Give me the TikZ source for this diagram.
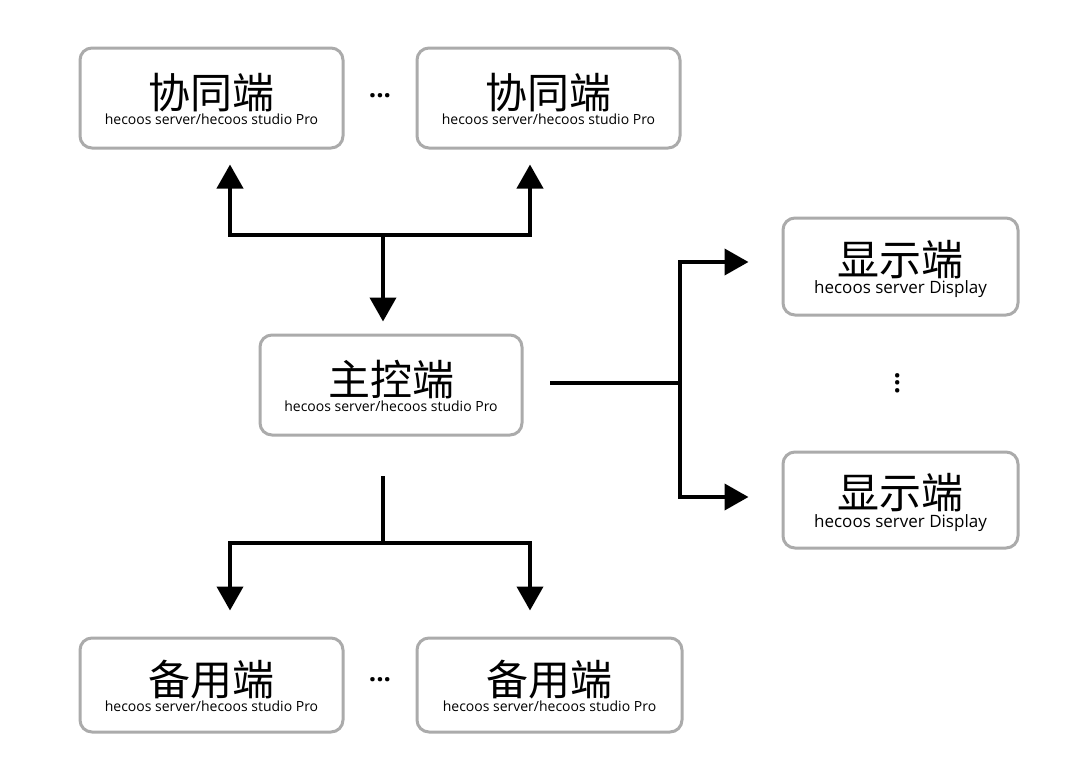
\documentclass[tikz,border=0pt]{standalone}
\usepackage{fontspec}
\setmainfont{Open Sans}
\newfontfamily\cjk{Noto Sans CJK SC}
\newfontfamily\sub{Open Sans}
\usetikzlibrary{arrows.meta}
\begin{document}
\begin{tikzpicture}[x=1pt,y=-1pt,
 box/.style={draw=black!33,line width=3pt,rounded corners=12pt,align=center,inner sep=0pt},
 ln/.style={line width=4pt,line cap=rect},
 arr/.style={ln,-{Triangle[length=24pt,width=26pt]}},
 dots/.style={font=\bfseries\fontsize{26}{26}\selectfont}]
\useasboundingbox[fill=white] (0,0) rectangle (1080,774);
\newcommand\bx[6]{\node[box,minimum width=#4,minimum height=#5] (#1) at (#2,#3) {\begin{tabular}{@{}c@{}}\rule{0pt}{40pt}{\cjk\fontsize{42}{42}\selectfont #6}\\[2pt]\mylabel\end{tabular}};}
\def\mylabel{\sub\fontsize{14}{15}\selectfont hecoos server/hecoos studio Pro}
\bx{t1}{211.5}{98}{263}{100}{协同端}
\bx{t2}{548.5}{98}{263}{100}{协同端}
\bx{m}{391}{385}{262}{100}{主控端}
\bx{b1}{211.5}{685}{263}{94}{备用端}
\bx{b2}{549.5}{685}{265}{94}{备用端}
\def\mylabel{\sub\fontsize{17}{18}\selectfont hecoos server Display}
\bx{d1}{900.5}{266.5}{235}{97}{显示端}
\bx{d2}{900.5}{500}{235}{96}{显示端}
\node[dots] (e1) at (380,96) {...};
\node[dots] (e2) at (380,680) {...};
\node[dots,rotate=90] (e3) at (898,383) {...};
% top
\coordinate (tj) at (383,235);
\draw[ln] (230,235) -- (530,235);
\draw[arr] (230,235) -- ([yshift=-15pt]t1.south -| 230,0);
\draw[arr] (530,235) -- ([yshift=-15pt]t2.south -| 530,0);
\draw[arr] (tj) -- ([yshift=12pt]m.north -| tj);
% right
\coordinate (rs) at (552,383);
\draw[ln] (rs) -- (680,383);
\draw[ln] (680,262) -- (680,497);
\draw[arr] (680,262) -- ([xshift=-33pt]d1.west |- 0,262);
\draw[arr] (680,497) -- ([xshift=-33pt]d2.west |- 0,497);
% bottom
\coordinate (bs) at (383,478);
\draw[ln] (bs) -- (383,543);
\draw[ln] (230,543) -- (530,543);
\draw[arr] (230,543) -- ([yshift=26pt]b1.north -| 230,0);
\draw[arr] (530,543) -- ([yshift=26pt]b2.north -| 530,0);
\end{tikzpicture}
\end{document}
